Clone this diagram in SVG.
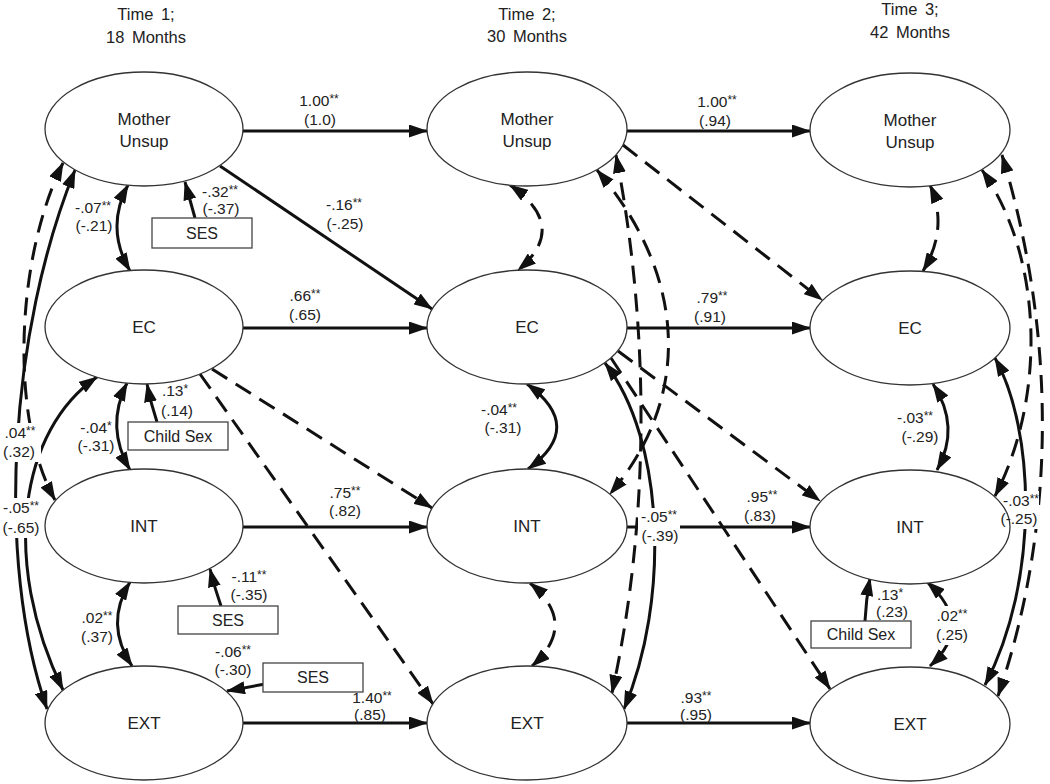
<svg xmlns="http://www.w3.org/2000/svg" width="1050" height="784" viewBox="0 0 1050 784">
<style>
.node ellipse{fill:#fff;stroke:#333;stroke-width:1.3}
.box rect{fill:#fff;stroke:#444;stroke-width:1.3}
text{font-family:"Liberation Sans",Arial,Helvetica,sans-serif;fill:#222;text-anchor:middle}
.nl{font-size:17px}
.ti{font-size:16.5px;word-spacing:3px}
.bx{font-size:16px}
.el{font-size:15.5px}
.s{font-size:12px}
#connectors path{fill:none;stroke:#111;stroke-width:3}
#connectors path.d{stroke-dasharray:18 10}
.bg{fill:#fff}
</style>
<defs>
<marker id="ah" viewBox="0 0 19 13" refX="18" refY="6.5" markerWidth="19" markerHeight="13" markerUnits="userSpaceOnUse" orient="auto-start-reverse">
<path d="M0,0 L19,6.5 L0,13 z" fill="#111"/>
</marker>
</defs>

<g id="titles">
<text class="ti" x="146" y="20">Time 1;</text>
<text class="ti" x="146" y="43">18 Months</text>
<text class="ti" x="527" y="20">Time 2;</text>
<text class="ti" x="527" y="42">30 Months</text>
<text class="ti" x="910" y="15">Time 3;</text>
<text class="ti" x="910" y="38">42 Months</text>
</g>

<g id="connectors">
<path d="M243,131 H427" marker-end="url(#ah)"/>
<path d="M627,131 H810" marker-end="url(#ah)"/>
<path d="M243,328 H427" marker-end="url(#ah)"/>
<path d="M627,328 H810" marker-end="url(#ah)"/>
<path d="M243,527 H427" marker-end="url(#ah)"/>
<path d="M627,527 H810" marker-end="url(#ah)"/>
<path d="M243,723 H427" marker-end="url(#ah)"/>
<path d="M627,723 H810" marker-end="url(#ah)"/>
<path d="M220,166 L432,309" marker-end="url(#ah)"/>
<path class="d" d="M212,369 L432,508" marker-end="url(#ah)"/>
<path class="d" d="M200,374 L433,704" marker-end="url(#ah)"/>
<path class="d" d="M623,145 L822,300" marker-end="url(#ah)"/>
<path class="d" d="M618,351 L820,501" marker-end="url(#ah)"/>
<path class="d" d="M611,358 L830,689" marker-end="url(#ah)"/>
<path d="M195,218 Q190,200 185,182" marker-end="url(#ah)"/>
<path d="M157,422 Q151,404 147,384" marker-end="url(#ah)"/>
<path d="M221,606 Q215,589 210,569" marker-end="url(#ah)"/>
<path d="M265,684 L227,691" marker-end="url(#ah)"/>
<path d="M865,621 Q866,600 870,578" marker-end="url(#ah)"/>
<path d="M128,185 Q105,228 130,271" marker-start="url(#ah)" marker-end="url(#ah)"/>
<path d="M127,383 Q105,427 130,470" marker-start="url(#ah)" marker-end="url(#ah)"/>
<path d="M130,582 Q104,624 132,666" marker-start="url(#ah)" marker-end="url(#ah)"/>
<path class="d" d="M510,185 Q570,227 518,270" marker-start="url(#ah)" marker-end="url(#ah)"/>
<path d="M527,384 Q586,427 528,469" marker-start="url(#ah)" marker-end="url(#ah)"/>
<path class="d" d="M530,583 Q579,624 532,666" marker-start="url(#ah)" marker-end="url(#ah)"/>
<path class="d" d="M930,185 Q949,228 923,271" marker-start="url(#ah)" marker-end="url(#ah)"/>
<path d="M933,384 Q961,427 937,470" marker-start="url(#ah)" marker-end="url(#ah)"/>
<path d="M927,582 Q975,625 930,666" marker-start="url(#ah)" marker-end="url(#ah)"/>
<path class="d" d="M63,163 C15,260 10,420 55,500" marker-start="url(#ah)" marker-end="url(#ah)"/>
<path d="M75,170 C10,330 -5,560 47,709" marker-start="url(#ah)" marker-end="url(#ah)"/>
<path d="M97,377 C20,430 0,560 63,690" marker-start="url(#ah)" marker-end="url(#ah)"/>
<path class="d" d="M597,170 C690,280 690,400 610,494" marker-start="url(#ah)" marker-end="url(#ah)"/>
<path class="d" d="M616,155 C650,330 650,520 612,693" marker-start="url(#ah)" marker-end="url(#ah)"/>
<path d="M605,363 C665,440 670,600 624,709" marker-start="url(#ah)" marker-end="url(#ah)"/>
<path class="d" d="M982,170 C1045,260 1045,400 995,496" marker-start="url(#ah)" marker-end="url(#ah)"/>
<path class="d" d="M1002,155 C1055,330 1058,520 998,696" marker-start="url(#ah)" marker-end="url(#ah)"/>
<path d="M995,358 C1035,430 1040,580 985,685" marker-start="url(#ah)" marker-end="url(#ah)"/>
</g>

<g id="label-backgrounds">
<rect class="bg" x="0" y="423" width="41" height="39"/>
<rect class="bg" x="0" y="498" width="44" height="40"/>
<rect class="bg" x="638" y="508" width="42" height="38"/>
<rect class="bg" x="1003" y="491" width="36" height="38"/>
<rect class="bg" x="935" y="606" width="35" height="39"/>
</g>

<g id="mu1" class="node"><ellipse cx="144" cy="129" rx="99" ry="57"/><text class="nl" x="144" y="125">Mother</text><text class="nl" x="144" y="147">Unsup</text></g>
<g id="ec1" class="node"><ellipse cx="144" cy="327" rx="99" ry="57"/><text class="nl" x="144" y="333">EC</text></g>
<g id="int1" class="node"><ellipse cx="144" cy="526" rx="99" ry="57"/><text class="nl" x="144" y="532">INT</text></g>
<g id="ext1" class="node"><ellipse cx="144" cy="723" rx="99" ry="57"/><text class="nl" x="144" y="729">EXT</text></g>

<g id="mu2" class="node"><ellipse cx="527" cy="129" rx="100" ry="57"/><text class="nl" x="527" y="125">Mother</text><text class="nl" x="527" y="147">Unsup</text></g>
<g id="ec2" class="node"><ellipse cx="527" cy="327" rx="100" ry="57"/><text class="nl" x="527" y="333">EC</text></g>
<g id="int2" class="node"><ellipse cx="527" cy="526" rx="100" ry="57"/><text class="nl" x="527" y="532">INT</text></g>
<g id="ext2" class="node"><ellipse cx="527" cy="723" rx="100" ry="57"/><text class="nl" x="527" y="729">EXT</text></g>

<g id="mu3" class="node"><ellipse cx="910" cy="130" rx="100" ry="57"/><text class="nl" x="910" y="126">Mother</text><text class="nl" x="910" y="148">Unsup</text></g>
<g id="ec3" class="node"><ellipse cx="910" cy="328" rx="100" ry="57"/><text class="nl" x="910" y="334">EC</text></g>
<g id="int3" class="node"><ellipse cx="910" cy="527" rx="100" ry="57"/><text class="nl" x="910" y="533">INT</text></g>
<g id="ext3" class="node"><ellipse cx="910" cy="724" rx="100" ry="57"/><text class="nl" x="910" y="730">EXT</text></g>

<g id="ses1" class="box"><rect x="152" y="218" width="100" height="30"/><text class="bx" x="202" y="239">SES</text></g>
<g id="childsex1" class="box"><rect x="128" y="422" width="100" height="28"/><text class="bx" x="178" y="442">Child Sex</text></g>
<g id="ses2" class="box"><rect x="178" y="606" width="100" height="28"/><text class="bx" x="228" y="626">SES</text></g>
<g id="ses3" class="box"><rect x="263" y="663" width="100" height="29"/><text class="bx" x="313" y="683">SES</text></g>
<g id="childsex3" class="box"><rect x="811" y="621" width="100" height="27"/><text class="bx" x="861" y="640">Child Sex</text></g>

<g id="labels">
<text class="el" x="319" y="106">1.00<tspan class="s" dy="-3">**</tspan></text><text class="el" x="320" y="125">(1.0)</text>
<text class="el" x="717" y="107">1.00<tspan class="s" dy="-3">**</tspan></text><text class="el" x="715" y="126">(.94)</text>
<text class="el" x="344" y="210">-.16<tspan class="s" dy="-3">**</tspan></text><text class="el" x="345" y="229">(-.25)</text>
<text class="el" x="220" y="197">-.32<tspan class="s" dy="-3">**</tspan></text><text class="el" x="221" y="214">(-.37)</text>
<text class="el" x="93" y="213">-.07<tspan class="s" dy="-3">**</tspan></text><text class="el" x="94" y="231">(-.21)</text>
<text class="el" x="305" y="301">.66<tspan class="s" dy="-3">**</tspan></text><text class="el" x="305" y="320">(.65)</text>
<text class="el" x="712" y="303">.79<tspan class="s" dy="-3">**</tspan></text><text class="el" x="710" y="322">(.91)</text>
<text class="el" x="175" y="396">.13<tspan class="s" dy="-3">*</tspan></text><text class="el" x="177" y="416">(.14)</text>
<text class="el" x="96" y="433">-.04<tspan class="s" dy="-3">*</tspan></text><text class="el" x="96" y="451">(-.31)</text>
<text class="el" x="20" y="438">.04<tspan class="s" dy="-3">**</tspan></text><text class="el" x="19" y="457">(.32)</text>
<text class="el" x="21" y="513">-.05<tspan class="s" dy="-3">**</tspan></text><text class="el" x="21" y="533">(-.65)</text>
<text class="el" x="499" y="415">-.04<tspan class="s" dy="-3">**</tspan></text><text class="el" x="503" y="433">(-.31)</text>
<text class="el" x="915" y="423">-.03<tspan class="s" dy="-3">**</tspan></text><text class="el" x="920" y="442">(-.29)</text>
<text class="el" x="345" y="498">.75<tspan class="s" dy="-3">**</tspan></text><text class="el" x="345" y="516">(.82)</text>
<text class="el" x="762" y="502">.95<tspan class="s" dy="-3">**</tspan></text><text class="el" x="760" y="521">(.83)</text>
<text class="el" x="659" y="522">-.05<tspan class="s" dy="-3">**</tspan></text><text class="el" x="660" y="541">(-.39)</text>
<text class="el" x="1021" y="506">-.03<tspan class="s" dy="-3">**</tspan></text><text class="el" x="1019" y="524">(-.25)</text>
<text class="el" x="249" y="582">-.11<tspan class="s" dy="-3">**</tspan></text><text class="el" x="249" y="600">(-.35)</text>
<text class="el" x="97" y="623">.02<tspan class="s" dy="-3">**</tspan></text><text class="el" x="97" y="642">(.37)</text>
<text class="el" x="890" y="600">.13<tspan class="s" dy="-3">*</tspan></text><text class="el" x="892" y="617">(.23)</text>
<text class="el" x="952" y="621">.02<tspan class="s" dy="-3">**</tspan></text><text class="el" x="952" y="640">(.25)</text>
<text class="el" x="233" y="657">-.06<tspan class="s" dy="-3">**</tspan></text><text class="el" x="233" y="675">(-.30)</text>
<text class="el" x="372" y="703">1.40<tspan class="s" dy="-3">**</tspan></text><text class="el" x="370" y="720">(.85)</text>
<text class="el" x="696" y="703">.93<tspan class="s" dy="-3">**</tspan></text><text class="el" x="696" y="720">(.95)</text>
</g>
</svg>
